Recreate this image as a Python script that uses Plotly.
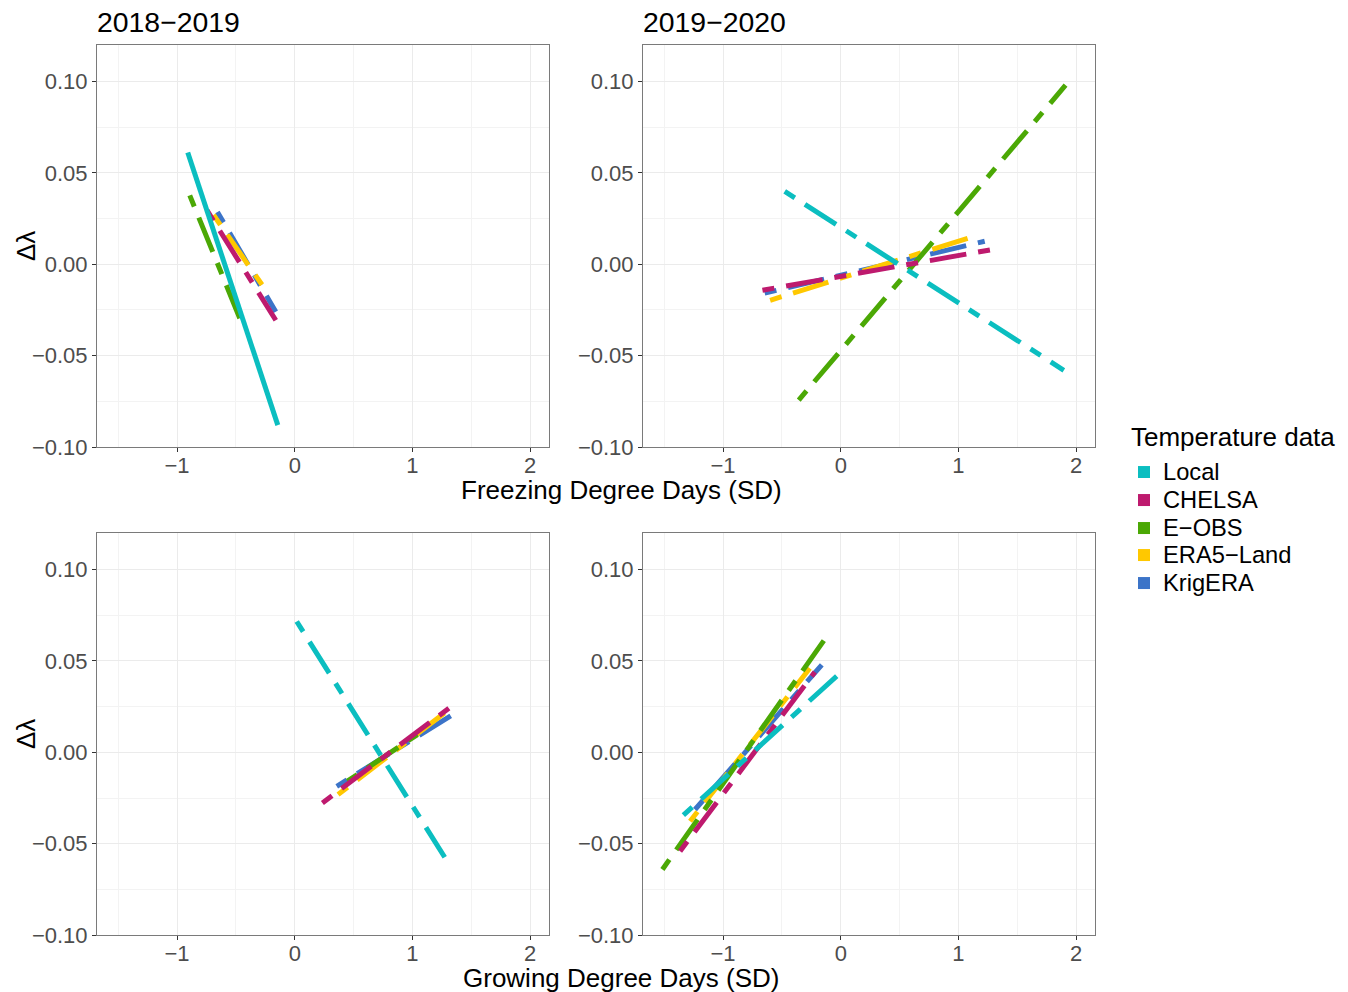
import plotly.graph_objects as go

# The captured page is slightly squeezed vertically (about 0.987), so the
# vertical layout positions are laid out on a slightly taller canvas.
SY = 0.987
W, H = 1348, 1005

series = ["Local", "CHELSA", "E-OBS", "ERA5-Land", "KrigERA"]
legend_labels = ["Local", "CHELSA", "E\u2212OBS", "ERA5\u2212Land", "KrigERA"]
colors = ["#0BBEC0", "#BE1A6E", "#4BA805", "#FFC800", "#3C74C8"]

panel_titles = ["2018\u22122019", "2019\u22122020"]
x_ticks = [-1, 0, 1, 2]
y_ticks = [-0.10, -0.05, 0.00, 0.05, 0.10]
y_ticklabels = ["\u22120.10", "\u22120.05", "0.00", "0.05", "0.10"]
x_ticklabels = ["\u22121", "0", "1", "2"]

# Freezing Degree Days, 2018-2019 (order: Local, CHELSA, E-OBS, ERA5-Land, KrigERA)
fdd1819_x0 = [-0.909, -0.745, -0.892, -0.690, -0.657]
fdd1819_x1 = [-0.144, -0.161, -0.467, -0.263, -0.161]
fdd1819_y0 = [0.0612, 0.0295, 0.0377, 0.0270, 0.0286]
fdd1819_y1 = [-0.0880, -0.0306, -0.0295, -0.0126, -0.0260]
fdd1819_dash = ["solid", "twodash", "twodash", "twodash", "twodash"]

# Freezing Degree Days, 2019-2020
fdd1920_x0 = [-0.476, -0.665, -0.357, -0.600, -0.646]
fdd1920_x1 = [1.895, 1.342, 1.910, 1.130, 1.223]
fdd1920_y0 = [0.0399, -0.0142, -0.0743, -0.0197, -0.0158]
fdd1920_y1 = [-0.0580, 0.0087, 0.0980, 0.0153, 0.0126]
fdd1920_dash = ["twodash"] * 5

# Growing Degree Days, 2018-2019
gdd1819_x0 = [0.017, 0.235, 0.447, 0.368, 0.357]
gdd1819_x1 = [1.274, 1.348, 1.042, 1.297, 1.340]
gdd1819_y0 = [0.0716, -0.0277, -0.0158, -0.0231, -0.0186]
gdd1819_y1 = [-0.0574, 0.0260, 0.0097, 0.0227, 0.0206]
gdd1819_dash = ["twodash"] * 5

# Growing Degree Days, 2019-2020
gdd1920_x0 = [-1.337, -1.365, -1.515, -1.280, -1.238]
gdd1920_x1 = [0.000, -0.220, -0.099, -0.263, -0.161]
gdd1920_y0 = [-0.0344, -0.0541, -0.0641, -0.0377, -0.0313]
gdd1920_y1 = [0.0437, 0.0440, 0.0652, 0.0460, 0.0479]
gdd1920_dash = ["twodash"] * 5

panels = [
    (fdd1819_x0, fdd1819_x1, fdd1819_y0, fdd1819_y1, fdd1819_dash),
    (fdd1920_x0, fdd1920_x1, fdd1920_y0, fdd1920_y1, fdd1920_dash),
    (gdd1819_x0, gdd1819_x1, gdd1819_y0, gdd1819_y1, gdd1819_dash),
    (gdd1920_x0, gdd1920_x1, gdd1920_y0, gdd1920_y1, gdd1920_dash),
]

# panel pixel boxes in the target picture (left, right, top, bottom)
boxes = [(97, 549, 45, 447), (643, 1095, 45, 447),
         (97, 549, 533, 935), (643, 1095, 533, 935)]

FONT = "Liberation Sans, Arial, Helvetica, sans-serif"
DASHES = {"solid": "solid", "twodash": "12px,12px,37px,12px"}


def px(xpix):
    return xpix / W


def py(ypix):
    return 1 - (ypix / SY) / H


fig = go.Figure()
layout = dict(
    width=W, height=H,
    margin=dict(l=0, r=0, t=0, b=0),
    paper_bgcolor="white", plot_bgcolor="white",
    font=dict(family=FONT, color="black"),
    showlegend=False,
)

for i, (box, data) in enumerate(zip(boxes, panels)):
    l, r, t, b = box
    n = i + 1
    xa = "xaxis" if n == 1 else f"xaxis{n}"
    ya = "yaxis" if n == 1 else f"yaxis{n}"
    xref = "x" if n == 1 else f"x{n}"
    yref = "y" if n == 1 else f"y{n}"
    common = dict(
        showline=True, mirror=True, linecolor="#7a7a7a", linewidth=1,
        showgrid=True, gridcolor="#ebebeb", gridwidth=1,
        zeroline=False, ticks="outside", ticklen=4, tickcolor="#333333",
        tickwidth=1, tickfont=dict(size=22, color="#4d4d4d", family=FONT),
    )
    layout[xa] = dict(
        domain=[px(l), px(r)], anchor=yref, range=[-1.68, 2.16],
        tickvals=x_ticks, ticktext=x_ticklabels, ticklabelstandoff=-5,
        minor=dict(tickvals=[-1.5, -0.5, 0.5, 1.5], showgrid=True,
                   gridcolor="#f3f3f3", gridwidth=1, ticks=""),
        **common,
    )
    layout[ya] = dict(
        domain=[py(b), py(t)], anchor=xref, range=[-0.10, 0.12],
        tickvals=y_ticks, ticktext=y_ticklabels,
        minor=dict(tickvals=[-0.075, -0.025, 0.025, 0.075], showgrid=True,
                   gridcolor="#f3f3f3", gridwidth=1, ticks=""),
        **common,
    )
    x0s, x1s, y0s, y1s, dashes = data
    for k in reversed(range(len(series))):
        fig.add_trace(go.Scatter(
            x=[x0s[k], x1s[k]], y=[y0s[k], y1s[k]],
            mode="lines", xaxis=xref, yaxis=yref,
            line=dict(color=colors[k], width=5, dash=DASHES[dashes[k]]),
            showlegend=False, hoverinfo="skip", name=series[k],
        ))

annotations = []
shapes = []

# panel titles
for title, left in zip(panel_titles, [97, 643]):
    annotations.append(dict(
        text=title, x=px(left - 2), y=py(22), xref="paper", yref="paper",
        xanchor="left", yanchor="middle", showarrow=False,
        font=dict(size=28.4, family=FONT, color="black"),
    ))
# shared x-axis titles
for txt, ypix in [("Freezing Degree Days (SD)", 490), ("Growing Degree Days (SD)", 978)]:
    annotations.append(dict(
        text=txt, x=px(621), y=py(ypix), xref="paper", yref="paper",
        xanchor="center", yanchor="middle", showarrow=False,
        font=dict(size=26, family=FONT, color="black"),
    ))
# y-axis titles
for ypix in [246, 734]:
    annotations.append(dict(
        text="\u0394\u03bb", x=px(26), y=py(ypix), xref="paper", yref="paper",
        xanchor="center", yanchor="middle", showarrow=False, textangle=-90,
        font=dict(size=26, family=FONT, color="black"),
    ))

# legend (drawn manually for exact spacing)
annotations.append(dict(
    text="Temperature data", x=px(1129), y=py(437), xref="paper", yref="paper",
    xanchor="left", yanchor="middle", showarrow=False,
    font=dict(size=26, family=FONT, color="black"),
))
leg_y = [472, 500, 528, 555, 583]
for k in range(len(series)):
    yc = leg_y[k]
    shapes.append(dict(
        type="rect", xref="paper", yref="paper",
        x0=px(1138), x1=px(1150), y0=py(yc + 6), y1=py(yc - 6),
        fillcolor=colors[k], line=dict(width=0),
    ))
    annotations.append(dict(
        text=legend_labels[k], x=px(1161), y=py(yc), xref="paper", yref="paper",
        xanchor="left", yanchor="middle", showarrow=False,
        font=dict(size=23.7, family=FONT, color="black"),
    ))

layout["annotations"] = annotations
layout["shapes"] = shapes

fig.update_layout(**layout)

# remove the browser's default page margin so the figure starts at the corner
page_fix = "document.body.style.margin='0';document.body.style.overflow='hidden';"
fig.write_html("out.html", post_script=page_fix,
               config={"displayModeBar": False, "staticPlot": True})
